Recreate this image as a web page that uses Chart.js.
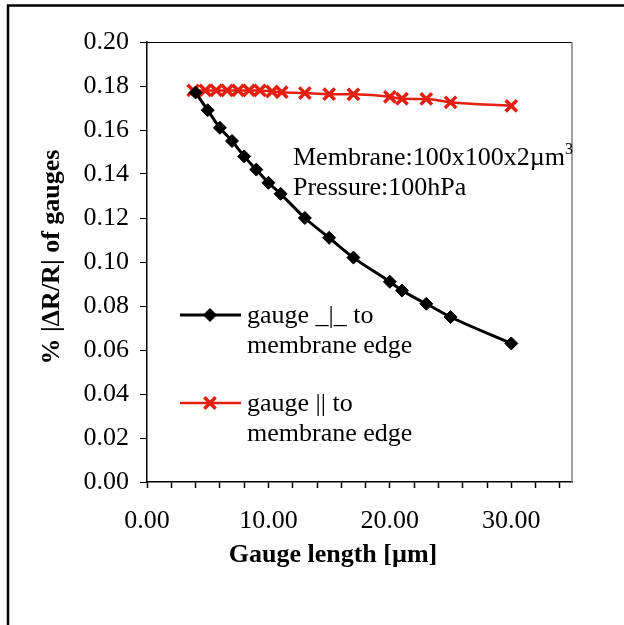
<!DOCTYPE html>
<html>
<head>
<meta charset="utf-8">
<script src="https://cdn.jsdelivr.net/npm/chart.js@4.4.1/dist/chart.umd.min.js"></script>
<style>
  html, body { margin: 0; padding: 0; background: #fff; }
  #wrap { position: relative; width: 624px; height: 625px; }
</style>
</head>
<body>
<div id="wrap"><canvas id="chart"></canvas></div>
<script>
// datos
const gaugeLenPerp = [4, 5, 6, 7, 8, 9, 10, 11, 13, 15, 17, 20, 21, 23, 25, 30];
const dRPerp = [0.177, 0.169, 0.161, 0.155, 0.148, 0.142, 0.136, 0.131, 0.120, 0.111, 0.102, 0.091, 0.087, 0.081, 0.075, 0.063];
const gaugeLenPar = [3.8, 4.8, 5.7, 6.6, 7.5, 8.4, 9.3, 10.3, 11.1, 13, 15, 17, 20, 21, 23, 25, 30];
const dRPar = [0.178, 0.178, 0.178, 0.178, 0.178, 0.178, 0.178, 0.1775, 0.1772, 0.1768, 0.1763, 0.1762, 0.1751, 0.1742, 0.1741, 0.1726, 0.1710];
const xLabelValues = [0, 10, 20, 30];
const seriesNames = [["gauge _|_ to", "membrane edge"], ["gauge || to", "membrane edge"]];
const noteLines = ["Membrane:100x100x2\u00b5m", "Pressure:100hPa"];
const xTitle = "Gauge length [\u00b5m]";
const yTitle = "% |\u0394R/R| of gauges";

const RED = 'rgb(228,30,16)';
const SERIF = '"Liberation Serif", "Times New Roman", serif';

const toPoints = (xs, ys) => xs.map((x, i) => ({ x: x, y: ys[i] }));

// marco, titulos, leyenda y nota
const decor = {
    id: 'decor',
    beforeDraw(chart) {
        const { ctx } = chart;
        ctx.save();
        ctx.fillStyle = '#fff';
        ctx.fillRect(0, 0, chart.width, chart.height);
        ctx.strokeStyle = '#000';
        ctx.lineWidth = 2.5;
        ctx.beginPath();
        ctx.moveTo(8, 625);
        ctx.lineTo(8, 5.5);
        ctx.lineTo(624, 5.5);
        ctx.stroke();
        ctx.restore();
    },
    afterDraw(chart) {
        const { ctx, chartArea: a } = chart;
        ctx.save();
        // borde del area
        ctx.lineWidth = 1;
        ctx.strokeStyle = '#000';
        ctx.beginPath();
        ctx.moveTo(a.left, a.top + 0.5);
        ctx.lineTo(a.right, a.top + 0.5);
        ctx.stroke();
        ctx.strokeStyle = '#808080';
        ctx.lineWidth = 1.5;
        ctx.beginPath();
        ctx.moveTo(a.right, a.top);
        ctx.lineTo(a.right, a.bottom);
        ctx.stroke();

        // titulos de ejes
        ctx.fillStyle = '#000';
        ctx.font = 'bold 26px ' + SERIF;
        ctx.textAlign = 'center';
        ctx.textBaseline = 'middle';
        ctx.fillText(xTitle, 333, 555);
        ctx.save();
        ctx.translate(52, 257);
        ctx.rotate(-Math.PI / 2);
        ctx.fillText(yTitle, 0, 0);
        ctx.restore();

        // nota
        ctx.font = '26px ' + SERIF;
        ctx.textAlign = 'left';
        ctx.fillText(noteLines[0], 293, 158);
        const w = ctx.measureText(noteLines[0]).width;
        ctx.font = '16px ' + SERIF;
        ctx.fillText('3', 293 + w, 150);
        ctx.font = '26px ' + SERIF;
        ctx.fillText(noteLines[1], 293, 188);

        // leyenda
        const items = [
            { y: 315, color: '#000', ds: 0 },
            { y: 403, color: RED, ds: 1 }
        ];
        items.forEach((it, k) => {
            const ds = chart.data.datasets[it.ds];
            ctx.strokeStyle = it.color;
            ctx.fillStyle = it.color;
            ctx.lineWidth = ds.borderWidth;
            ctx.beginPath();
            ctx.moveTo(180, it.y);
            ctx.lineTo(241, it.y);
            ctx.stroke();
            ctx.lineWidth = ds.pointBorderWidth;
            Chart.helpers.drawPoint(ctx, {
                pointStyle: ds.pointStyle,
                radius: ds.pointRadius,
                borderWidth: ds.pointBorderWidth,
                rotation: 0
            }, 210, it.y);
            ctx.fillStyle = '#000';
            ctx.font = '26px ' + SERIF;
            ctx.fillText(seriesNames[k][0], 247, it.y + 1);
            ctx.fillText(seriesNames[k][1], 247, it.y + 31);
        });
        ctx.restore();
    }
};

new Chart(document.getElementById('chart'), {
    type: 'line',
    data: {
        datasets: [
            {
                label: seriesNames[0].join(' '),
                data: toPoints(gaugeLenPerp, dRPerp),
                borderColor: '#000',
                backgroundColor: '#000',
                borderWidth: 3,
                pointStyle: 'rectRot',
                pointRadius: 6.5,
                pointBorderWidth: 1,
                pointBackgroundColor: '#000',
                pointBorderColor: '#000',
                cubicInterpolationMode: 'monotone'
            },
            {
                label: seriesNames[1].join(' '),
                data: toPoints(gaugeLenPar, dRPar),
                borderColor: RED,
                backgroundColor: RED,
                borderWidth: 2.5,
                pointStyle: 'crossRot',
                pointRadius: 8,
                pointBorderWidth: 3.5,
                pointBorderColor: RED,
                cubicInterpolationMode: 'monotone'
            }
        ]
    },
    options: {
        responsive: true,
        maintainAspectRatio: false,
        animation: false,
        layout: { padding: { left: 0, right: 52, top: 42, bottom: 0 } },
        plugins: { legend: { display: false }, tooltip: { enabled: false } },
        scales: {
            x: {
                type: 'linear',
                min: 0,
                max: 35,
                afterFit: (s) => { s.height = 143; },
                border: { color: '#000', width: 1.5 },
                grid: { drawOnChartArea: false, drawTicks: true, tickLength: 6, color: '#000', tickWidth: 1.5 },
                ticks: {
                    stepSize: 2,
                    includeBounds: false,
                    autoSkip: false,
                    maxRotation: 0,
                    padding: 18,
                    color: '#000',
                    font: { family: SERIF, size: 26 },
                    callback: (v) => xLabelValues.includes(v) ? v.toFixed(2) : ''
                }
            },
            y: {
                min: 0,
                max: 0.2,
                afterFit: (s) => { s.width = 147; },
                border: { color: '#000', width: 1.5 },
                grid: { drawOnChartArea: false, drawTicks: true, tickLength: 7, color: '#000', tickWidth: 1 },
                ticks: {
                    stepSize: 0.02,
                    padding: 11,
                    color: '#000',
                    font: { family: SERIF, size: 26 },
                    callback: (v) => v.toFixed(2)
                }
            }
        }
    },
    plugins: [decor]
});
</script>
</body>
</html>
